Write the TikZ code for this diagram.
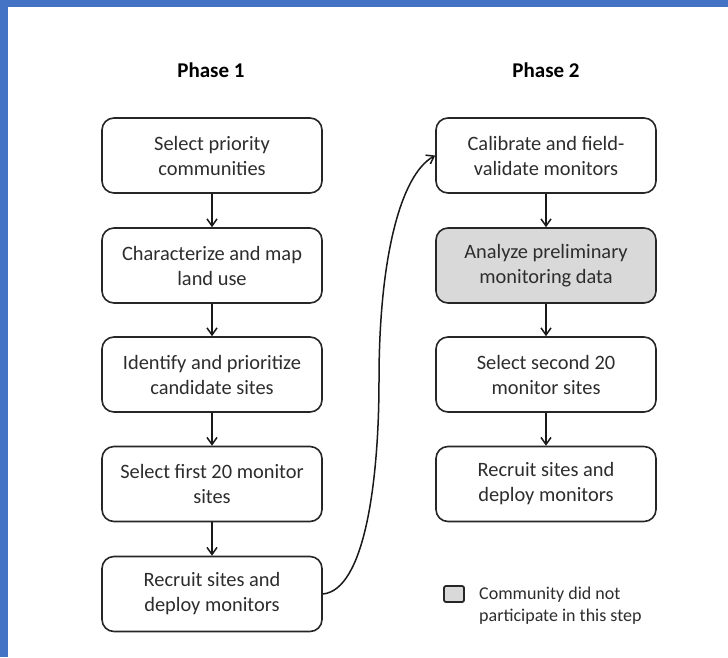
\documentclass[tikz,border=0pt]{standalone}
\usepackage{fontspec}
\setmainfont{Carlito}
\usetikzlibrary{arrows.meta}
\definecolor{frameblue}{RGB}{68,114,196}
\definecolor{boxgray}{RGB}{217,217,217}
\definecolor{txt}{RGB}{45,45,45}
\begin{document}
\begin{tikzpicture}[x=1pt,y=-1pt,
  stepbox/.style={draw=black!85, line width=1.6pt, rounded corners=12pt,
    minimum width=220pt, minimum height=75pt, align=center, text=txt,
    font=\fontsize{20.4}{25}\selectfont, inner sep=0pt},
  arr/.style={line width=1.5pt, draw=black!90, -{Straight Barb[length=7pt,width=10pt,line width=1.5pt]}},
  phase/.style={font=\bfseries\fontsize{21}{24}\selectfont, text=black}]
\useasboundingbox (0,0) rectangle (728,657);
\fill[white] (0,0) rectangle (728,657);
\fill[frameblue] (0,0) rectangle (728,7);
\fill[frameblue] (0,0) rectangle (8,657);

\node[phase] (p1) at (211,70) {Phase 1};
\node[phase] (p2) at (546,70) {Phase 2};

\node[stepbox] (a1) at (212,155.5) {Select priority\\communities};
\node[stepbox] (a2) at (212,265.5) {Characterize and map\\land use};
\node[stepbox] (a3) at (212,374.5) {Identify and prioritize\\candidate sites};
\node[stepbox] (a4) at (212,484) {Select first 20 monitor\\sites};
\node[stepbox] (a5) at (212,594) {Recruit sites and\\deploy monitors};

\node[stepbox] (b1) at (546,155.5) {Calibrate and field-\\validate monitors};
\node[stepbox, fill=boxgray] (b2) at (546,265.5) {Analyze preliminary\\monitoring data};
\node[stepbox] (b3) at (546,374.5) {Select second 20\\monitor sites};
\node[stepbox] (b4) at (546,484) {Recruit sites and\\deploy monitors};

\draw[arr] (a1) -- (a2);
\draw[arr] (a2) -- (a3);
\draw[arr] (a3) -- (a4);
\draw[arr] (a4) -- (a5);
\draw[arr] (b1) -- (b2);
\draw[arr] (b2) -- (b3);
\draw[arr] (b3) -- (b4);
\coordinate (mid) at (379,380);
\draw[arr] (a5.east) .. controls (365,590) and (379,480) .. (mid)
  .. controls (379,260) and (400,175) .. (b1.west);

\node[draw=black!85, fill=boxgray, line width=1.8pt, rounded corners=2pt,
  minimum width=20pt, minimum height=16pt, inner sep=0pt] (leg) at (454,594) {};
\node[anchor=west, align=left, text=txt, font=\fontsize{18}{22}\selectfont, inner sep=0pt]
  (legtext) at (479,606) {Community did not\\participate in this step};
\end{tikzpicture}
\end{document}
